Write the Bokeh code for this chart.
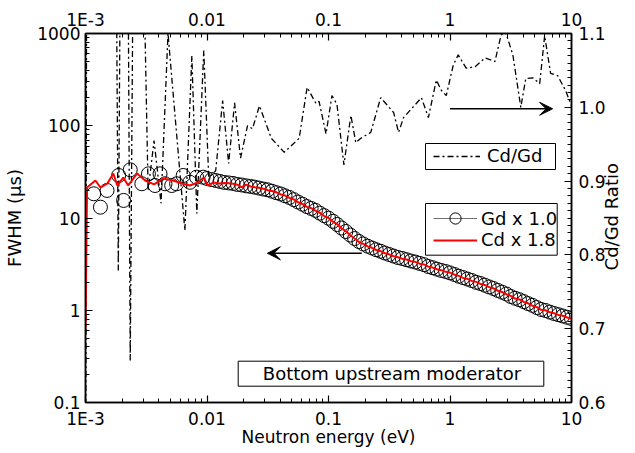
import math
from bokeh.plotting import figure
from bokeh.models import (Range1d, LinearAxis, LogAxis, LinearScale, FixedTicker, CustomJSTickFormatter,
                          Legend, LegendItem, BoxAnnotation, Label, Arrow, VeeHead)
from bokeh.embed import file_html
from bokeh.resources import INLINE

FONT = "DejaVu Sans"

# ---------------- data ----------------
X_TICKS = [0.001, 0.01, 0.1, 1, 10]
X_TICK_LABELS = ["1E-3", "0.01", "0.1", "1", "10"]
Y_TICKS = [0.1, 1, 10, 100, 1000]
Y_TICK_LABELS = ["0.1", "1", "10", "100", "1000"]
R_TICKS = [0.6, 0.7, 0.8, 0.9, 1.0, 1.1]
R_TICK_LABELS = ["0.6", "0.7", "0.8", "0.9", "1.0", "1.1"]
X_TITLE = "Neutron energy (eV)"
Y_TITLE = "FWHM (\u03bcs)"
R_TITLE = "Cd/Gd Ratio"
BOX_TEXT = "Bottom upstream moderator"

# Gd x 1.0 (open circles): neutron energy (eV) and FWHM (us)
E_GD = [1.169e-3, 1.327e-3, 1.504e-3, 1.874e-3, 2.059e-3, 2.334e-3, 2.909e-3, 3.296e-3,
        3.737e-3, 4.107e-3, 4.512e-3, 5.12e-3, 5.62e-3, 6.37e-3, 7.23e-3, 8.20e-3, 9.29e-3,
        0.0100, 0.0109, 0.0118, 0.0128, 0.0139, 0.0151, 0.0164, 0.0178, 0.0193, 0.0210,
        0.0228, 0.0247, 0.0268, 0.0291, 0.0316, 0.0343, 0.0373, 0.0405, 0.0439, 0.0477,
        0.0518, 0.0562, 0.0611, 0.0663, 0.0720, 0.0781, 0.0848, 0.0921,
        0.100, 0.109, 0.118, 0.128, 0.139, 0.151, 0.164, 0.178, 0.193, 0.210,
        0.228, 0.247, 0.268, 0.291, 0.316, 0.343, 0.373, 0.405, 0.439, 0.477,
        0.518, 0.562, 0.611, 0.663, 0.720, 0.781, 0.848, 0.921,
        1.00, 1.09, 1.18, 1.28, 1.39, 1.51, 1.64, 1.78, 1.93, 2.10,
        2.28, 2.47, 2.68, 2.91, 3.16, 3.43, 3.73, 4.05, 4.39, 4.77,
        5.18, 5.62, 6.11, 6.63, 7.20, 7.81, 8.48, 9.21, 10.0]
FWHM_GD = [18.3, 13.1, 19.9, 28.9, 15.5, 33.3, 23.5, 30.1,
           22.5, 30.1, 23.5, 22.5, 23.5, 28.9, 24.4, 27.7, 27.7,
           26.8, 26.1, 25.5, 24.9, 24.3, 24.0, 23.7, 23.1, 22.8, 22.3,
           22.0, 21.6, 21.1, 20.6, 20.2, 19.5, 18.8, 18.2, 17.4, 16.7,
           15.8, 14.9, 14.1, 13.3, 12.7, 12.1, 11.3, 10.6,
           9.95, 9.21, 8.50, 7.79, 7.14, 6.54, 5.99, 5.56, 5.23, 4.95,
           4.73, 4.53, 4.36, 4.17, 4.02, 3.87, 3.73, 3.64, 3.53, 3.42,
           3.33, 3.22, 3.12, 2.98, 2.89, 2.79, 2.70, 2.63,
           2.54, 2.44, 2.34, 2.26, 2.18, 2.10, 2.01, 1.95, 1.87, 1.79,
           1.72, 1.64, 1.57, 1.50, 1.41, 1.35, 1.30, 1.24, 1.18, 1.13,
           1.07, 1.02, 0.994, 0.955, 0.922, 0.895, 0.866, 0.839, 0.814]

# Cd x 1.8 (red line)
E_CD_LOW = [1.00e-3, 1.03e-3, 1.207e-3, 1.327e-3, 1.513e-3, 1.694e-3, 1.827e-3, 2.046e-3,
            2.247e-3, 2.663e-3, 3.097e-3, 3.667e-3, 4.345e-3, 5.246e-3, 6.216e-3, 7.225e-3,
            8.403e-3, 9.406e-3, 0.01014, 0.01136, 0.01272]
E_CD = E_CD_LOW + E_GD[21:]
FWHM_CD = [0.60, 21.4, 25.5, 21.4, 23.7, 30.4, 22.5, 27.5,
           22.5, 30.4, 25.5, 23.1, 26.8, 25.5, 23.7, 22.5,
           24.3, 27.5, 22.5, 24.3, 23.7,
           24.0, 23.8, 23.5, 23.0, 21.5, 23.0, 22.0, 21.6, 21.3, 20.8,
           20.0, 19.6, 19.0, 18.0, 17.5, 16.5, 15.9, 14.8, 14.2, 13.2,
           12.8, 12.0, 11.4, 10.5,
           10.0, 9.1, 8.6, 7.7, 7.2, 6.5, 6.0, 5.5, 5.25, 4.92,
           4.75, 4.50, 4.38, 4.15, 4.04, 3.85, 3.75, 3.62, 3.55, 3.40,
           3.35, 3.20, 3.14, 2.97, 2.90, 2.78, 2.72, 2.61,
           2.56, 2.43, 2.36, 2.24, 2.19, 2.08, 2.03, 1.93, 1.88, 1.78,
           1.73, 1.63, 1.58, 1.49, 1.43, 1.34, 1.31, 1.23, 1.19, 1.12,
           1.08, 1.01, 1.00, 0.950, 0.928, 0.890, 0.872, 0.835, 0.815]

# Cd/Gd ratio (dash-dot line, right axis)
E_RATIO = [1.000e-3, 1.030e-3, 1.760e-3, 1.862e-3, 1.970e-3, 2.206e-3, 2.334e-3, 2.516e-3,
           2.926e-3, 3.276e-3, 3.667e-3, 4.184e-3, 4.775e-3, 6.577e-3, 7.503e-3, 8.245e-3,
           9.406e-3, 0.01033, 0.01179, 0.01345, 0.01507, 0.01687, 0.01888, 0.02154,
           0.02367, 0.02701, 0.03385, 0.04325, 0.05737, 0.06668, 0.07903, 0.08361,
           0.09541, 0.1068, 0.1174, 0.1339, 0.1528, 0.1679, 0.1845, 0.2227,
           0.2688, 0.3435, 0.3774, 0.4146, 0.582, 0.664, 0.772, 0.848,
           0.932, 1.063, 1.168, 1.358, 1.609, 1.941, 2.344, 2.624,
           2.831, 3.292, 3.826, 4.204, 4.797, 5.473, 6.012, 6.730,
           7.685, 8.930, 10.0]
RATIO = [0.35, 1.50, 1.40, 0.779, 1.40, 1.40, 0.657, 1.40,
         1.30, 0.887, 0.955, 0.870, 1.100, 0.833, 1.070, 0.856,
         1.077, 0.905, 0.914, 1.009, 0.924, 1.006, 0.931, 0.975,
         0.971, 1.002, 0.958, 0.939, 0.958, 1.027, 1.005, 1.008,
         0.964, 1.016, 1.004, 0.922, 0.989, 0.952, 0.958, 0.966,
         1.013, 0.993, 0.966, 0.986, 1.013, 0.986, 1.037, 1.023,
         1.016, 1.057, 1.071, 1.053, 1.055, 1.067, 1.062, 1.097,
         1.105, 1.071, 1.000, 1.039, 1.040, 1.032, 1.097, 1.046,
         1.043, 1.023, 1.002]

X_MINOR = [m * d for d in (1e-3, 1e-2, 1e-1, 1) for m in range(2, 10)]
Y_MINOR = [m * d for d in (0.1, 1, 10, 100) for m in range(2, 10)]
R_MINOR = [round(0.6 + 0.01 * k, 2) for k in range(51)]

# ---------------- figure ----------------
p = figure(width=635, height=453, x_axis_type="log", y_axis_type="log",
           x_range=Range1d(1e-3, 10), y_range=Range1d(0.1, 1000),
           output_backend="svg", toolbar_location=None,
           min_border_left=85, min_border_right=61, min_border_top=33, min_border_bottom=51)
p.extra_y_ranges = {"ratio": Range1d(0.6, 1.1)}
p.extra_y_scales = {"ratio": LinearScale()}
p.xgrid.visible = False
p.ygrid.visible = False
p.outline_line_color = "black"
p.outline_line_width = 1.5
p.background_fill_color = "white"
p.border_fill_color = "white"

FMT_CODE = "const i = tv.indexOf(tick); return i < 0 ? '' : tl[i];"


def style_axis(ax, standoff):
    ax.axis_line_width = 1.5
    ax.axis_line_color = "black"
    ax.major_tick_in = 7
    ax.major_tick_out = 0
    ax.minor_tick_in = 4
    ax.minor_tick_out = 0
    ax.major_tick_line_width = 1.2
    ax.minor_tick_line_width = 1
    ax.major_tick_line_color = "black"
    ax.minor_tick_line_color = "black"
    ax.major_label_text_font = FONT
    ax.major_label_text_font_size = "17px"
    ax.major_label_text_color = "black"
    ax.major_label_standoff = standoff
    ax.axis_label_text_font = FONT
    ax.axis_label_text_font_style = "normal"
    ax.axis_label_text_color = "black"


bx = p.xaxis[0]
bx.ticker = FixedTicker(ticks=X_TICKS, minor_ticks=X_MINOR)
bx.formatter = CustomJSTickFormatter(args=dict(tv=X_TICKS, tl=X_TICK_LABELS), code=FMT_CODE)
style_axis(bx, 6)
bx.axis_label = X_TITLE
bx.axis_label_text_font_size = "17px"
bx.axis_label_standoff = -5

ly = p.yaxis[0]
ly.ticker = FixedTicker(ticks=Y_TICKS, minor_ticks=Y_MINOR)
ly.formatter = CustomJSTickFormatter(args=dict(tv=Y_TICKS, tl=Y_TICK_LABELS), code=FMT_CODE)
style_axis(ly, 5)
ly.axis_label = Y_TITLE
ly.axis_label_text_font_size = "18px"
ly.axis_label_standoff = 9

tx = LogAxis(ticker=FixedTicker(ticks=X_TICKS, minor_ticks=X_MINOR),
             formatter=CustomJSTickFormatter(args=dict(tv=X_TICKS, tl=X_TICK_LABELS), code=FMT_CODE))
style_axis(tx, 4)
p.add_layout(tx, "above")

ry = LinearAxis(y_range_name="ratio", ticker=FixedTicker(ticks=R_TICKS, minor_ticks=R_MINOR),
                formatter=CustomJSTickFormatter(args=dict(tv=R_TICKS, tl=R_TICK_LABELS), code=FMT_CODE))
style_axis(ry, 7)
p.add_layout(ry, "right")

# right-hand title, written upward, as a single rotated tick label of an extra (invisible) axis
rt = LinearAxis(y_range_name="ratio", ticker=FixedTicker(ticks=[0.779], minor_ticks=[]),
                formatter=CustomJSTickFormatter(args=dict(t=R_TITLE), code="return t;"),
                major_label_orientation=math.pi / 2)
style_axis(rt, 3)
rt.major_label_text_font_size = "18px"
rt.axis_line_color = None
rt.major_tick_line_color = None
rt.minor_tick_line_color = None
p.add_layout(rt, "right")

# ---------------- series ----------------
ratio_r = p.line(E_RATIO, RATIO, y_range_name="ratio", line_color="black",
                 line_width=1.3, line_dash="6 3 2 3")
gd_r = p.scatter(E_GD, FWHM_GD, marker="circle", size=14, fill_color=None,
                 line_color="black", line_width=1)
cd_r = p.line(E_CD, FWHM_CD, line_color="red", line_width=2)
# connecting line for the Gd legend entry only (not shown in the plot)
gd_leg_line = p.line(E_GD, FWHM_GD, line_color="#707070", line_width=1.2, visible=False)

# ---------------- legends ----------------
common = dict(padding=0, margin=0, spacing=0, border_line_alpha=0, background_fill_alpha=0,
              label_text_font=FONT, label_text_font_size="18px", label_text_color="black")
legA = Legend(items=[LegendItem(label="Cd/Gd", renderers=[ratio_r])], location=(348, 236),
              glyph_width=47, glyph_height=20, label_height=20, label_standoff=7, **common)
legB = Legend(items=[LegendItem(label="Gd x 1.0", renderers=[gd_leg_line, gd_r])], location=(348, 170),
              glyph_width=44, glyph_height=28, label_height=28, label_standoff=4, **common)
legC = Legend(items=[LegendItem(label="Cd x 1.8", renderers=[cd_r])], location=(348, 152),
              glyph_width=44, glyph_height=20, label_height=20, label_standoff=4, **common)
for lg in (legA, legB, legC):
    p.add_layout(lg)


def frame_box(l, r, b, t):
    return BoxAnnotation(left=l, right=r, bottom=b, top=t, left_units="screen", right_units="screen",
                         bottom_units="screen", top_units="screen", fill_color=None, fill_alpha=0,
                         line_color="black", line_alpha=1, line_width=1, level="overlay")


p.add_layout(frame_box(340, 470, 233, 259))
p.add_layout(frame_box(340, 471.7, 147.3, 199))
p.add_layout(frame_box(152.7, 458.3, 16.3, 41.3))

# ---------------- texts ----------------
p.add_layout(Label(x=306.5, y=28.7, x_units="screen", y_units="screen", text=BOX_TEXT,
                   text_align="center", text_baseline="middle", text_font=FONT,
                   text_font_size="18px", text_color="black"))

# ---------------- arrows ----------------
p.add_layout(Arrow(x_start=0.188, y_start=4.15, x_end=0.0314, y_end=4.15, line_width=1.5,
                   line_color="black",
                   end=VeeHead(size=13, fill_color="black", line_color="black", line_width=1)))
p.add_layout(Arrow(x_start=1.0, y_start=0.998, x_end=6.99, y_end=0.998, y_range_name="ratio",
                   line_width=1.5, line_color="black",
                   end=VeeHead(size=13, fill_color="black", line_color="black", line_width=1)))

open("out.html", "w").write(file_html(p, INLINE))
